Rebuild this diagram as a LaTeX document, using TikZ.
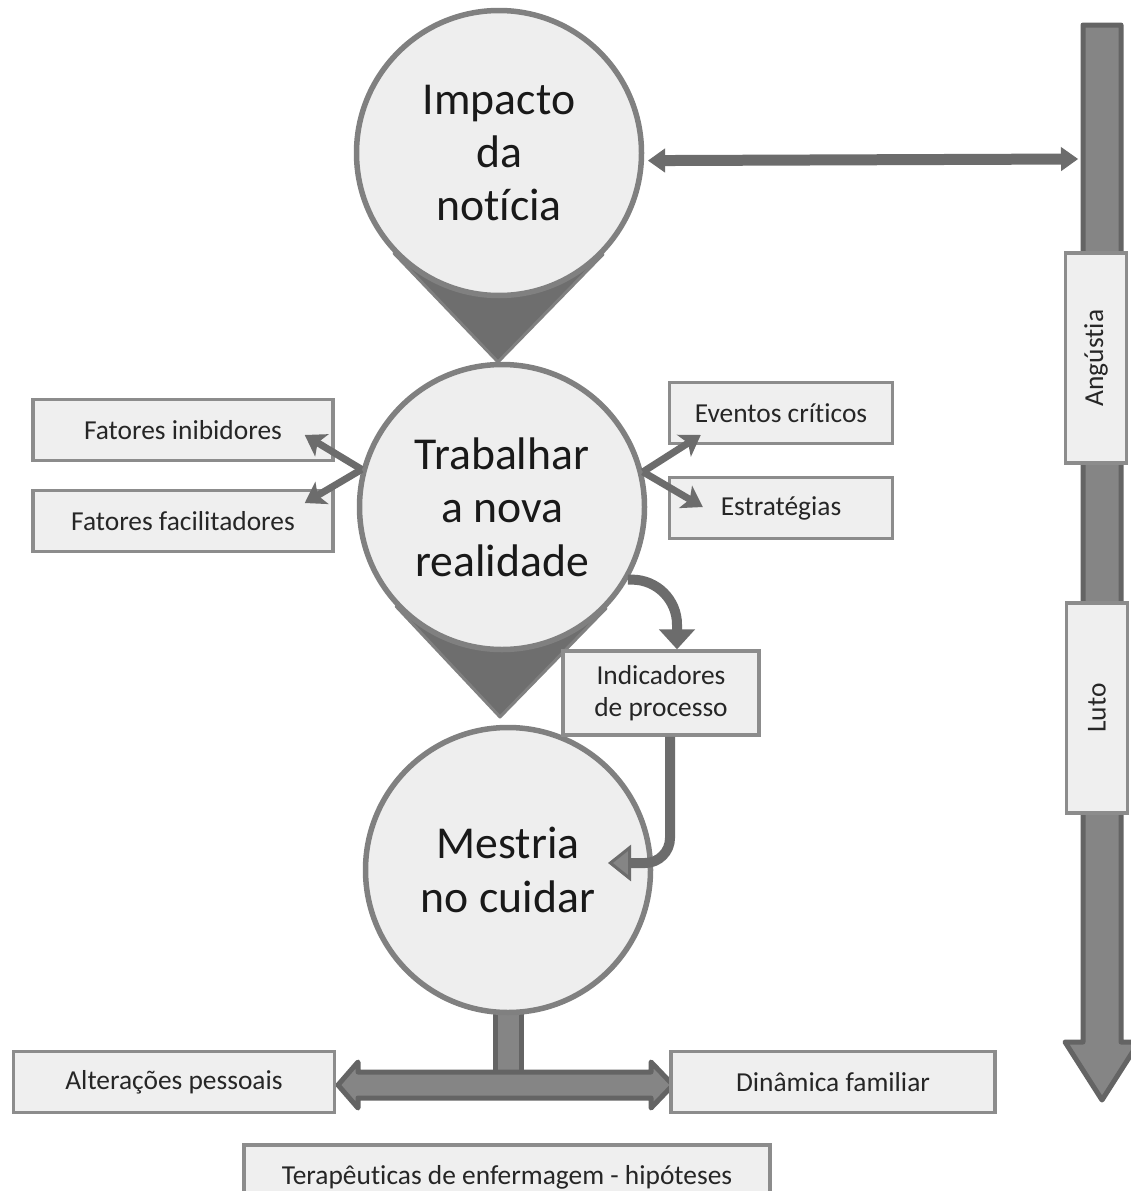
\documentclass[tikz,border=0pt]{standalone}
\usepackage{fontspec}
\setmainfont{Carlito}[Ligatures=NoCommon]
\usetikzlibrary{calc, arrows.meta}
\definecolor{ring}{RGB}{128, 128, 128}
\definecolor{disc}{RGB}{238, 238, 238}
\definecolor{pin}{RGB}{110, 110, 110}
\definecolor{boxline}{RGB}{140, 140, 140}
\definecolor{boxfill}{RGB}{239, 239, 239}
\definecolor{shaft}{RGB}{133, 133, 133}
\definecolor{shaftline}{RGB}{100, 100, 100}
\definecolor{link}{RGB}{108, 108, 108}
\pgfdeclarelayer{back}
\pgfsetlayers{back, main}

\begin{document}
\begin{tikzpicture}[x=0.1mm, y=-0.1mm,
    stage/.style={circle, draw=ring, line width=0.55mm, fill=disc, inner sep=0pt,
      minimum size=28.5mm, align=center, text=black!90, font=\fontsize{13}{15.2}\selectfont},
    infobox/.style 2 args={rectangle, draw=boxline, line width=0.35mm, fill=boxfill,
      minimum width=#1, minimum height=#2, inner sep=0pt, align=center, text=black!85,
      font=\fontsize{7.8}{9.2}\selectfont},
    fatarrow/.style={fill=shaft, draw=shaftline, line width=0.5mm, line join=round},
    linkline/.style={draw=link, line width=0.7mm, -{Stealth[length=2mm, width=2.6mm, inset=0.5mm, line width=0.2mm]}}]

  \useasboundingbox (0, 0) rectangle (1131, 1191);

  \node[stage] (c1) at (499, 153) {Impacto\\da\\notícia};
  \node[stage] (c2) at (502, 507) {Trabalhar\\a nova\\realidade};
  \node[stage] (c3) at (508, 870) {Mestria\\no cuidar};
  \coordinate (t1) at (498, 362);
  \coordinate (t2) at (500, 717);

  \foreach \n/\x/\y/\w/\t in {inib/183/430/30mm/Fatores inibidores,
      facil/183/521/30mm/Fatores facilitadores,
      evt/781/413/22.3mm/Eventos críticos,
      estr/781/508/22.3mm/Estratégias} {
    \node[infobox={\w}{6.1mm}] (\n) at (\x, \y) {\t};
  }
  \node[infobox={19.6mm}{8.4mm}] (indic) at (661, 693) {Indicadores\\de processo};
  \node[infobox={32.1mm}{6.1mm}] (alter) at (174, 1082) {Alterações pessoais};
  \node[infobox={32.4mm}{6.1mm}] (dinam) at (833, 1082) {Dinâmica familiar};
  \node[infobox={52.6mm}{6.4mm}] (terap) at (507, 1177) {Terapêuticas de enfermagem - hipóteses};
  \node[infobox={21mm}{6.1mm}, rotate=90] (angust) at (1096, 358) {Angústia};
  \node[infobox={21mm}{6.1mm}, rotate=90] (luto) at (1097, 708) {Luto};

  \begin{pgfonlayer}{back}
    \fill[white] (0, 0) rectangle (1131, 1191);
    \filldraw[fatarrow] (1083, 25) -- (1121, 25) -- (1121, 1042) -- (1139, 1042)
      -- (1102, 1100) -- (1065, 1042) -- (1083, 1042) -- cycle;
    \filldraw[fatarrow] ($(c3.south)+(-13, -6)$) rectangle ($(c3.south)+(13, 62)$);
    \filldraw[fatarrow] (338, 1085) -- (358, 1062) -- (358, 1072) -- (651, 1072)
      -- (651, 1062) -- (673, 1085) -- (651, 1108) -- (651, 1098) -- (358, 1098)
      -- (358, 1108) -- cycle;
    \foreach \c/\t in {c1/t1, c2/t2} {
      \filldraw[fill=pin, draw=ring, line width=0.3mm, line join=round]
        (tangent cs:node=\c, point={(\t)}, solution=1) -- (\t)
        -- (tangent cs:node=\c, point={(\t)}, solution=2) -- cycle;
    }
  \end{pgfonlayer}

  \coordinate (axis) at (1078, 159);
  \draw[draw=link, line width=1.1mm,
    {Triangle[length=1.7mm, width=2.4mm, line width=0.1mm]}-{Triangle[length=1.7mm, width=2.4mm, line width=0.1mm]}]
    ([xshift=0.4mm]c1.-3) -- (axis);

  \draw[linkline] (c2.165) -- ($(inib.east)+(-30, 5)$);
  \draw[linkline] (c2.165) -- ($(facil.east)+(-30, -18)$);
  \draw[linkline] (c2.14) -- ($(evt.west)+(33, 22)$);
  \draw[linkline] (c2.14) -- ($(estr.west)+(35, -1)$);

  \draw[draw=link, line width=1mm, rounded corners=4.5mm,
    -{Triangle[length=2mm, width=3.6mm, line width=0.2mm]}]
    (c2.-30) -| ([xshift=1.6mm]indic.north);
  \draw[draw=link, line width=1mm, rounded corners=2.5mm,
    -{Triangle[length=2.3mm, width=3.6mm, line width=0.3mm, fill=shaft]}]
    ([xshift=0.9mm]indic.south) |- ($(c3)+(100, -7)$);

\end{tikzpicture}
\end{document}
